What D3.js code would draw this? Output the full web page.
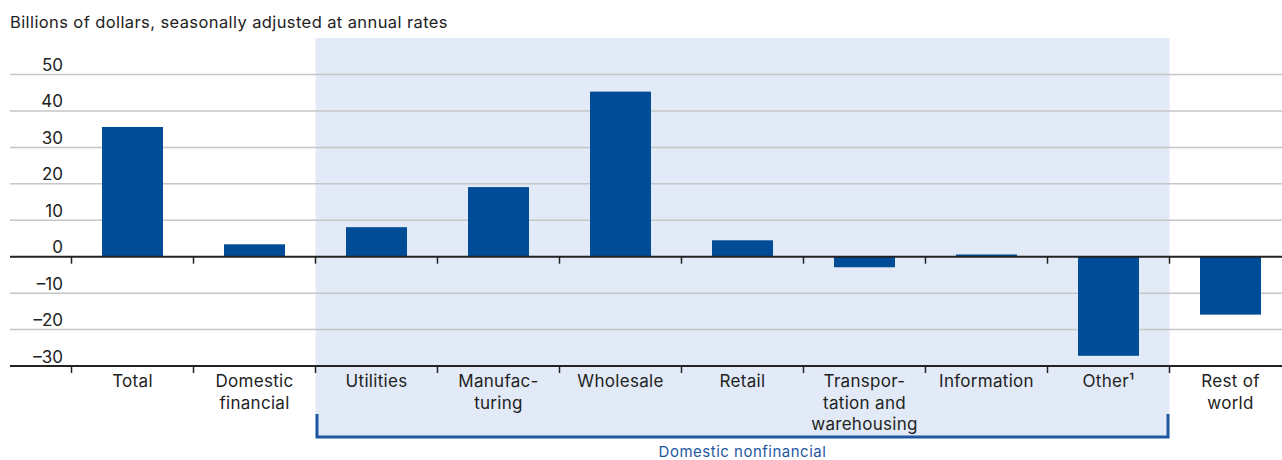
<!DOCTYPE html>
<html>
<head>
<meta charset="utf-8">
<script src="https://cdn.jsdelivr.net/npm/d3@7"></script>
<style>
  html, body { margin: 0; padding: 0; background: #fff; }
  svg { display: block; font-family: Inter, "Open Sans", sans-serif; }
</style>
</head>
<body>
<svg id="chart" width="1282" height="460"></svg>
<script>
// Change by sector, billions of dollars (SAAR)
const categories = ["Total", "Domestic financial", "Utilities", "Manufacturing", "Wholesale",
  "Retail", "Transportation and warehousing", "Information", "Other", "Rest of world"];
const values = [35.6, 3.4, 8.1, 19.1, 45.3, 4.5, -2.9, 0.6, -27.2, -15.9];
const categoryLabels = [["Total"], ["Domestic", "financial"], ["Utilities"], ["Manufac-", "turing"],
  ["Wholesale"], ["Retail"], ["Transpor-", "tation and", "warehousing"], ["Information"],
  ["Other¹"], ["Rest of", "world"]];
const yTicks = [-30, -20, -10, 0, 10, 20, 30, 40, 50];
const groupName = "Domestic nonfinancial";
const groupMembers = ["Utilities", "Manufacturing", "Wholesale", "Retail",
  "Transportation and warehousing", "Information", "Other"];
const unitsLabel = "Billions of dollars, seasonally adjusted at annual rates";

const gridLeft = 10, gridRight = 1282;
const svg = d3.select("#chart");

// One 122px slot per category; bars take half of each slot
const x = d3.scaleBand().domain(categories)
  .range([71.5, 71.5 + 122 * categories.length])
  .paddingInner(0.5).paddingOuter(0.25);
const y = d3.scaleLinear().domain([-30, 50]).range([366, 74.5]);
const half = (x.step() - x.bandwidth()) / 2;
const slotLeft = c => x(c) - half;
const slotRight = c => x(c) + x.bandwidth() + half;

// Shaded panel for the nonfinancial group
const gx0 = slotLeft(groupMembers[0]);
const gx1 = slotRight(groupMembers[groupMembers.length - 1]);
svg.append("rect")
  .attr("x", gx0).attr("y", 38)
  .attr("width", gx1 - gx0).attr("height", 438 - 38)
  .attr("fill", "#e1eaf6");

// Units label
svg.append("text")
  .attr("x", 10).attr("y", 28)
  .attr("font-size", 16.5).attr("letter-spacing", 0.4).attr("fill", "#222")
  .text(unitsLabel);

// Horizontal gridlines
svg.append("g").selectAll("line")
  .data(yTicks.filter(d => d !== 0 && d !== -30))
  .join("line")
  .attr("x1", gridLeft).attr("x2", gridRight)
  .attr("y1", d => y(d)).attr("y2", d => y(d))
  .attr("stroke", "#c6c6c6").attr("stroke-width", 1.5);

// Y tick labels
svg.append("g").selectAll("text")
  .data(yTicks)
  .join("text")
  .attr("x", 63).attr("y", d => y(d) - 3.5)
  .attr("text-anchor", "end")
  .attr("font-size", 17).attr("fill", "#222")
  .text(d => d < 0 ? "\u2013" + Math.abs(d) : d);

// Bars
svg.append("g").selectAll("rect")
  .data(categories.map((c, i) => ({ c, v: values[i] })))
  .join("rect")
  .attr("x", d => x(d.c))
  .attr("width", x.bandwidth())
  .attr("y", d => y(Math.max(0, d.v)))
  .attr("height", d => Math.abs(y(d.v) - y(0)))
  .attr("fill", "#004c97");

// Zero line and bottom axis line, with ticks on slot boundaries
[0, -30].forEach(v => {
  svg.append("line")
    .attr("x1", gridLeft).attr("x2", gridRight)
    .attr("y1", y(v)).attr("y2", y(v))
    .attr("stroke", "#222").attr("stroke-width", 2);
  svg.append("g").selectAll("line")
    .data(categories)
    .join("line")
    .attr("x1", d => slotLeft(d))
    .attr("x2", d => slotLeft(d))
    .attr("y1", y(v)).attr("y2", y(v) + 7)
    .attr("stroke", "#222").attr("stroke-width", 1.5);
});

// Category labels
const labelG = svg.append("g");
categories.forEach((c, i) => {
  const cx = x(c) + x.bandwidth() / 2;
  const t = labelG.append("text")
    .attr("x", cx).attr("y", 387)
    .attr("text-anchor", "middle")
    .attr("font-size", 17).attr("letter-spacing", 0.3).attr("fill", "#222");
  categoryLabels[i].forEach((line, j) => {
    t.append("tspan")
      .attr("x", cx)
      .attr("dy", j === 0 ? 0 : 21.5)
      .text(line);
  });
});

// Group bracket
svg.append("path")
  .attr("d", `M${gx0 + 1.5},414 V437 H${gx1 - 1.5} V414`)
  .attr("fill", "none")
  .attr("stroke", "#1f58a0").attr("stroke-width", 3);

svg.append("text")
  .attr("x", (gx0 + gx1) / 2).attr("y", 457)
  .attr("text-anchor", "middle")
  .attr("font-size", 15).attr("letter-spacing", 0.5).attr("fill", "#1f58a0")
  .text(groupName);
</script>
</body>
</html>
